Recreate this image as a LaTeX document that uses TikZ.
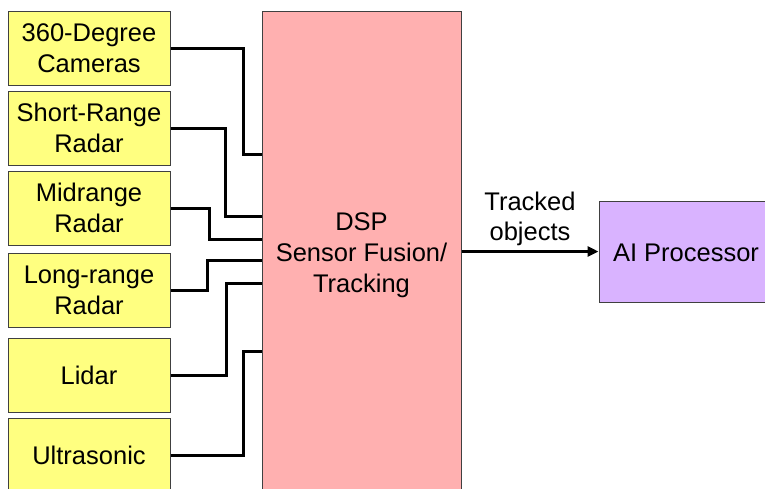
\documentclass[tikz,border=0pt]{standalone}
\usepackage{fontspec}
\setmainfont{Liberation Sans}
\usetikzlibrary{arrows.meta,calc}
\definecolor{sensorfill}{RGB}{255,255,128}
\definecolor{dspfill}{RGB}{255,176,176}
\definecolor{aifill}{RGB}{217,179,255}
\definecolor{edge}{RGB}{64,64,64}
\tikzset{
  sensor/.style={draw=edge, line width=1pt, fill=sensorfill, minimum width=162pt,
    minimum height=74pt, inner sep=0pt, align=center, font=\fontsize{25.5}{31}\selectfont},
  block/.style={draw=edge, line width=1pt, inner sep=0pt, align=center,
    font=\fontsize{25.5}{31}\selectfont},
  wire/.style={line width=3pt, black, line join=miter},
  flow/.style={line width=3pt, black, -{Triangle[length=11pt,width=10pt]}},
  caption/.style={align=center, font=\fontsize{25.5}{30}\selectfont}
}
\begin{document}
\begin{tikzpicture}[x=1pt,y=-1pt]
  \useasboundingbox (0,0) rectangle (765,488);
  \clip (0,0) rectangle (765,488);

  % sensor inputs
  \node[sensor] (cam)   at (89,48.5) {360-Degree\\Cameras};
  \node[sensor] (srr)   at (89,128)  {Short-Range\\Radar};
  \node[sensor] (mrr)   at (89,208)  {Midrange\\Radar};
  \node[sensor] (lrr)   at (89,290)  {Long-range\\Radar};
  \node[sensor] (lidar) at (89,375)  {Lidar};
  \node[sensor] (ultra) at (89,455)  {Ultrasonic};

  % fusion and downstream processing
  \node[block, fill=dspfill, minimum width=199pt, minimum height=488pt] (dsp)
    at (361.5,255) {DSP\\Sensor Fusion/\\Tracking};
  \node[block, fill=aifill, minimum width=174pt, minimum height=101pt,
    text depth=0pt] (ai) at (686,251.5) {\raisebox{-2pt}{AI Processor}};

  % sensor wiring into the fusion block
  \draw[wire] (cam.east)   -| (243,154) -- (dsp.west |- 0,154);
  \draw[wire] (srr.east)   -| (225,216) -- (dsp.west |- 0,216);
  \draw[wire] (mrr.east)   -| (209,239) -- (dsp.west |- 0,239);
  \draw[wire] (lrr.east)   -| (207,260) -- (dsp.west |- 0,260);
  \draw[wire] (lidar.east) -| (226,283) -- (dsp.west |- 0,283);
  \draw[wire] (ultra.east) -| (243,351) -- (dsp.west |- 0,351);

  % output
  \draw[flow] (dsp.east |- 0,251.5) -- (ai.west);
  \node[caption] (objs) at (530,219) {Tracked\\objects};
\end{tikzpicture}
\end{document}
